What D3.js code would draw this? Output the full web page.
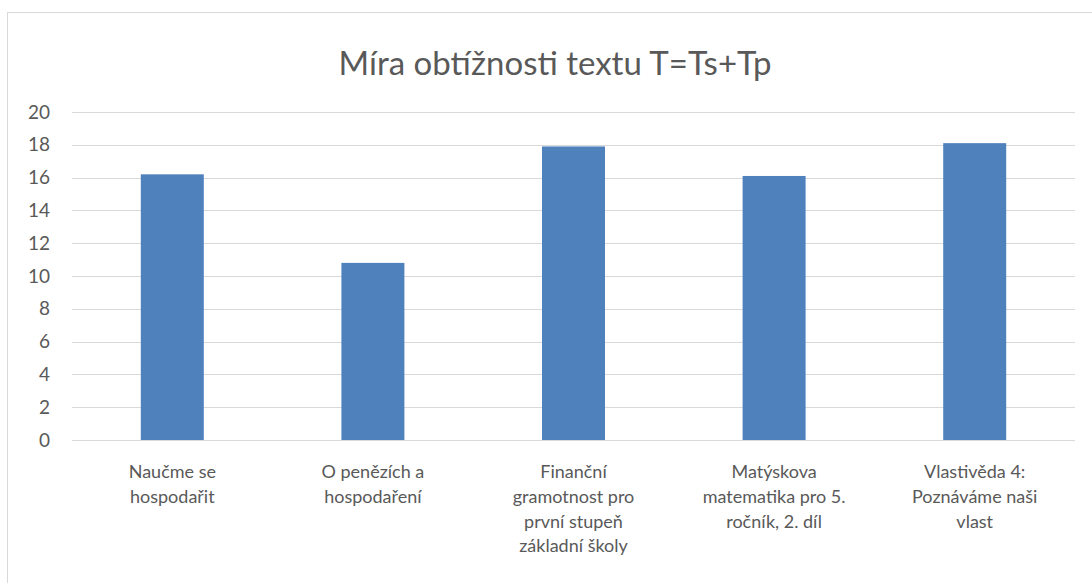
<!DOCTYPE html>
<html>
<head>
<meta charset="utf-8">
<script src="https://cdn.jsdelivr.net/npm/d3@7"></script>
<style>
  body { margin: 0; background: #fff; }
  text { font-family: Lato, "Open Sans", sans-serif; fill: #595959; }
</style>
</head>
<body>
<div id="chart"></div>
<script>
// chart data
const categories = [
    "Naučme se hospodařit",
    "O penězích a hospodaření",
    "Finanční gramotnost pro první stupeň základní školy",
    "Matýskova matematika pro 5. ročník, 2. díl",
    "Vlastivěda 4: Poznáváme naši vlast"
];
// label lines as they wrap in the picture
const categoryLines = [
    ["Naučme se", "hospodařit"],
    ["O penězích a", "hospodaření"],
    ["Finanční", "gramotnost pro", "první stupeň", "základní školy"],
    ["Matýskova", "matematika pro 5.", "ročník, 2. díl"],
    ["Vlastivěda 4:", "Poznáváme naši", "vlast"]
];
const values = [16.2, 10.8, 17.9, 16.1, 18.1];
const yTicks = [0, 2, 4, 6, 8, 10, 12, 14, 16, 18, 20];
const title = "Míra obtížnosti textu T=Ts+Tp";

const width = 1092, height = 583;
const margin = {top: 112, right: 17, bottom: 143, left: 72};
const innerW = width - margin.left - margin.right;
const innerH = height - margin.top - margin.bottom;

const svg = d3.select("#chart").append("svg")
    .attr("width", width)
    .attr("height", height);

// outer chart border (partly cropped in the reference)
svg.append("rect")
    .attr("x", 7.5).attr("y", 12.5)
    .attr("width", width + 20).attr("height", height + 20)
    .attr("fill", "none")
    .attr("stroke", "#d9d9d9")
    .attr("stroke-width", 1);

svg.append("text")
    .attr("x", 555)
    .attr("y", 62)
    .attr("text-anchor", "middle")
    .attr("dominant-baseline", "central")
    .style("font-size", "33px")
    .text(title);

const g = svg.append("g")
    .attr("transform", "translate(" + margin.left + "," + margin.top + ")");

const x = d3.scaleBand()
    .domain(categories)
    .range([0, innerW])
    .paddingInner(0.686)
    .paddingOuter(0.343);

const y = d3.scaleLinear()
    .domain([0, 20])
    .range([innerH, 0]);

// gridlines
g.append("g")
    .attr("class", "grid")
    .selectAll("line")
    .data(yTicks)
    .join("line")
    .attr("x1", 0).attr("x2", innerW)
    .attr("y1", d => Math.round(y(d)) + 0.5)
    .attr("y2", d => Math.round(y(d)) + 0.5)
    .attr("stroke", "#d9d9d9")
    .attr("stroke-width", 1.2);

// y axis labels
const yAxis = d3.axisLeft(y).tickValues(yTicks).tickSize(0).tickPadding(22);
g.append("g")
    .call(yAxis)
    .call(a => a.select(".domain").remove())
    .selectAll("text")
    .style("font-size", "19px")
    .style("font-family", "Lato, 'Open Sans', sans-serif")
    .attr("fill", "#595959");

// bars
g.selectAll(".bar")
    .data(values)
    .join("rect")
    .attr("class", "bar")
    .attr("x", (d, i) => x(categories[i]))
    .attr("width", x.bandwidth())
    .attr("y", d => y(d))
    .attr("height", d => innerH - y(d))
    .attr("fill", "#4f81bd");

// category labels
const labels = g.append("g")
    .selectAll("text")
    .data(categories)
    .join("text")
    .attr("text-anchor", "middle")
    .attr("transform", d => "translate(" + (x(d) + x.bandwidth() / 2) + "," + (innerH + 31) + ")")
    .style("font-size", "18px");

labels.each(function(d, i) {
    d3.select(this).selectAll("tspan")
        .data(categoryLines[i])
        .join("tspan")
        .attr("x", 0)
        .attr("y", (l, j) => j * 24.8)
        .attr("dominant-baseline", "central")
        .text(l => l);
});
</script>
</body>
</html>
